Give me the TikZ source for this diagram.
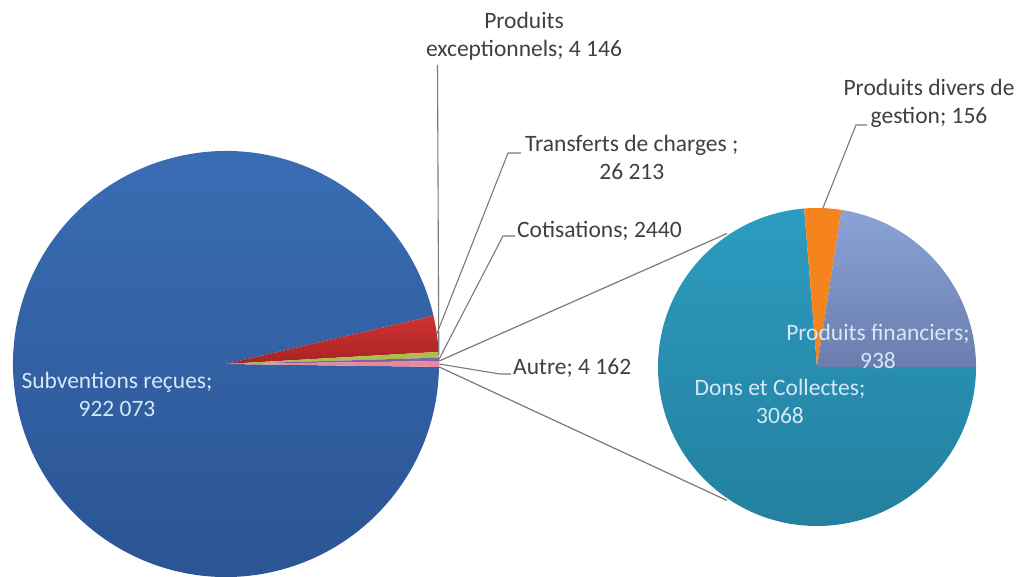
\documentclass[tikz,border=0pt]{standalone}
\usepackage{fontspec}
\setmainfont{Carlito}
\definecolor{subvA}{HTML}{3A6EB5}
\definecolor{subvB}{HTML}{2A5392}
\definecolor{redA}{HTML}{D03232}
\definecolor{redB}{HTML}{A82424}
\definecolor{excgreen}{HTML}{AEBF48}
\definecolor{cotpurple}{HTML}{7D63A8}
\definecolor{autpink}{HTML}{E8889A}
\definecolor{donsA}{HTML}{2C9CC0}
\definecolor{donsB}{HTML}{237F9E}
\definecolor{divorange}{HTML}{F5841F}
\definecolor{finA}{HTML}{8AA3D6}
\definecolor{finB}{HTML}{6A7DAE}
\definecolor{labelgray}{HTML}{404040}
\definecolor{inwhite}{HTML}{D6E8F5}
\definecolor{leadergray}{HTML}{7A7A7A}
\begin{document}
\begin{tikzpicture}[x=1pt,y=1pt,
  lbl/.style={font=\fontsize{23.5}{28}\selectfont, text=labelgray, inner sep=0pt, align=center},
  inlbl/.style={lbl, text=inwhite},
  leader/.style={draw=leadergray, line width=1.1pt},
  conn/.style={draw=leadergray, line width=1.2pt}]
\useasboundingbox (0,0) rectangle (1016,577);
\fill[white] (0,0) rectangle (1016,577);
\coordinate (C1) at (226,213);
\coordinate (C2) at (817,210);
% ---- big pie
\shade[top color=subvA, bottom color=subvB] (C1) -- ++(13.092:213) arc[start angle=13.092, end angle=359.219, radius=213] -- cycle;
\shade[top color=redA, bottom color=redB] (C1) -- ++(3.253:213) arc[start angle=3.253, end angle=13.092, radius=213] -- cycle;
\fill[excgreen] (C1) -- ++(1.697:213) arc[start angle=1.697, end angle=3.253, radius=213] -- cycle;
\fill[cotpurple] (C1) -- ++(0.781:213) arc[start angle=0.781, end angle=1.697, radius=213] -- cycle;
\fill[autpink] (C1) -- ++(-0.781:213) arc[start angle=-0.781, end angle=0.781, radius=213] -- cycle;
% ---- small pie
\shade[top color=donsA, bottom color=donsB] (C2) -- ++(94.628:159) arc[start angle=94.628, end angle=360, radius=159] -- cycle;
\fill[divorange] (C2) -- ++(81.134:159) arc[start angle=81.134, end angle=94.628, radius=159] -- cycle;
\shade[top color=finA, bottom color=finB] (C2) -- ++(0:159) arc[start angle=0, end angle=81.134, radius=159] -- cycle;
% ---- slice points
\path (C1) ++(0.781:213) coordinate (pAutTop);
\path (C1) ++(-0.781:213) coordinate (pAutBot);
\path (C1) ++(0:213) coordinate (pAut);
\path (C1) ++(1.239:213) coordinate (pCot);
\path (C1) ++(2.475:213) coordinate (pExc);
\path (C1) ++(8.17:213) coordinate (pTra);
\path (C2) ++(87.88:159) coordinate (pDiv);
\path (C2) ++(124:161) coordinate (qTop);
\path (C2) ++(236:161) coordinate (qBot);
% ---- labels (base anchor = baseline of the last line)
\node[lbl, anchor=base] (lExc) at (524,520.5) {Produits\\exceptionnels; 4 146};
\node[lbl, anchor=base west] (lTra) at (525,397) {Transferts de charges ;\\26 213};
\node[lbl, anchor=base west] (lCot) at (517,339.5) {Cotisations; 2440};
\node[lbl, anchor=base west] (lAut) at (513,202) {Autre; 4 162};
\node[lbl, anchor=base] (lDiv) at (929,453) {Produits divers de\\gestion; 156};
\node[inlbl, anchor=base] (lSub) at (117,160.5) {Subventions reçues;\\922 073};
\node[inlbl, anchor=base] (lFin) at (878,208.5) {Produits financiers;\\938};
\node[inlbl, anchor=base] (lDon) at (780,153) {Dons et Collectes;\\3068};
% ---- leader points
\coordinate (kExc) at (437.5,512);
\coordinate (kTraA) at (508,424);
\coordinate (kTraB) at (521,424);
\coordinate (kCotA) at (503,341);
\coordinate (kCotB) at (515,341);
\coordinate (kAutA) at (500,203);
\coordinate (kAutB) at (511,203);
\coordinate (kDivA) at (856,452);
\coordinate (kDivB) at (867,452);
% ---- leaders
\draw[leader] (pExc) -- (kExc);
\draw[leader] (pTra) -- (kTraA) -- (kTraB);
\draw[leader] (pCot) -- (kCotA) -- (kCotB);
\draw[leader] (pAut) -- (kAutA) -- (kAutB);
\draw[leader] (pDiv) -- (kDivA) -- (kDivB);
% ---- connectors
\draw[conn] (pAutTop) -- (qTop);
\draw[conn] (pAutBot) -- (qBot);
\end{tikzpicture}
\end{document}
